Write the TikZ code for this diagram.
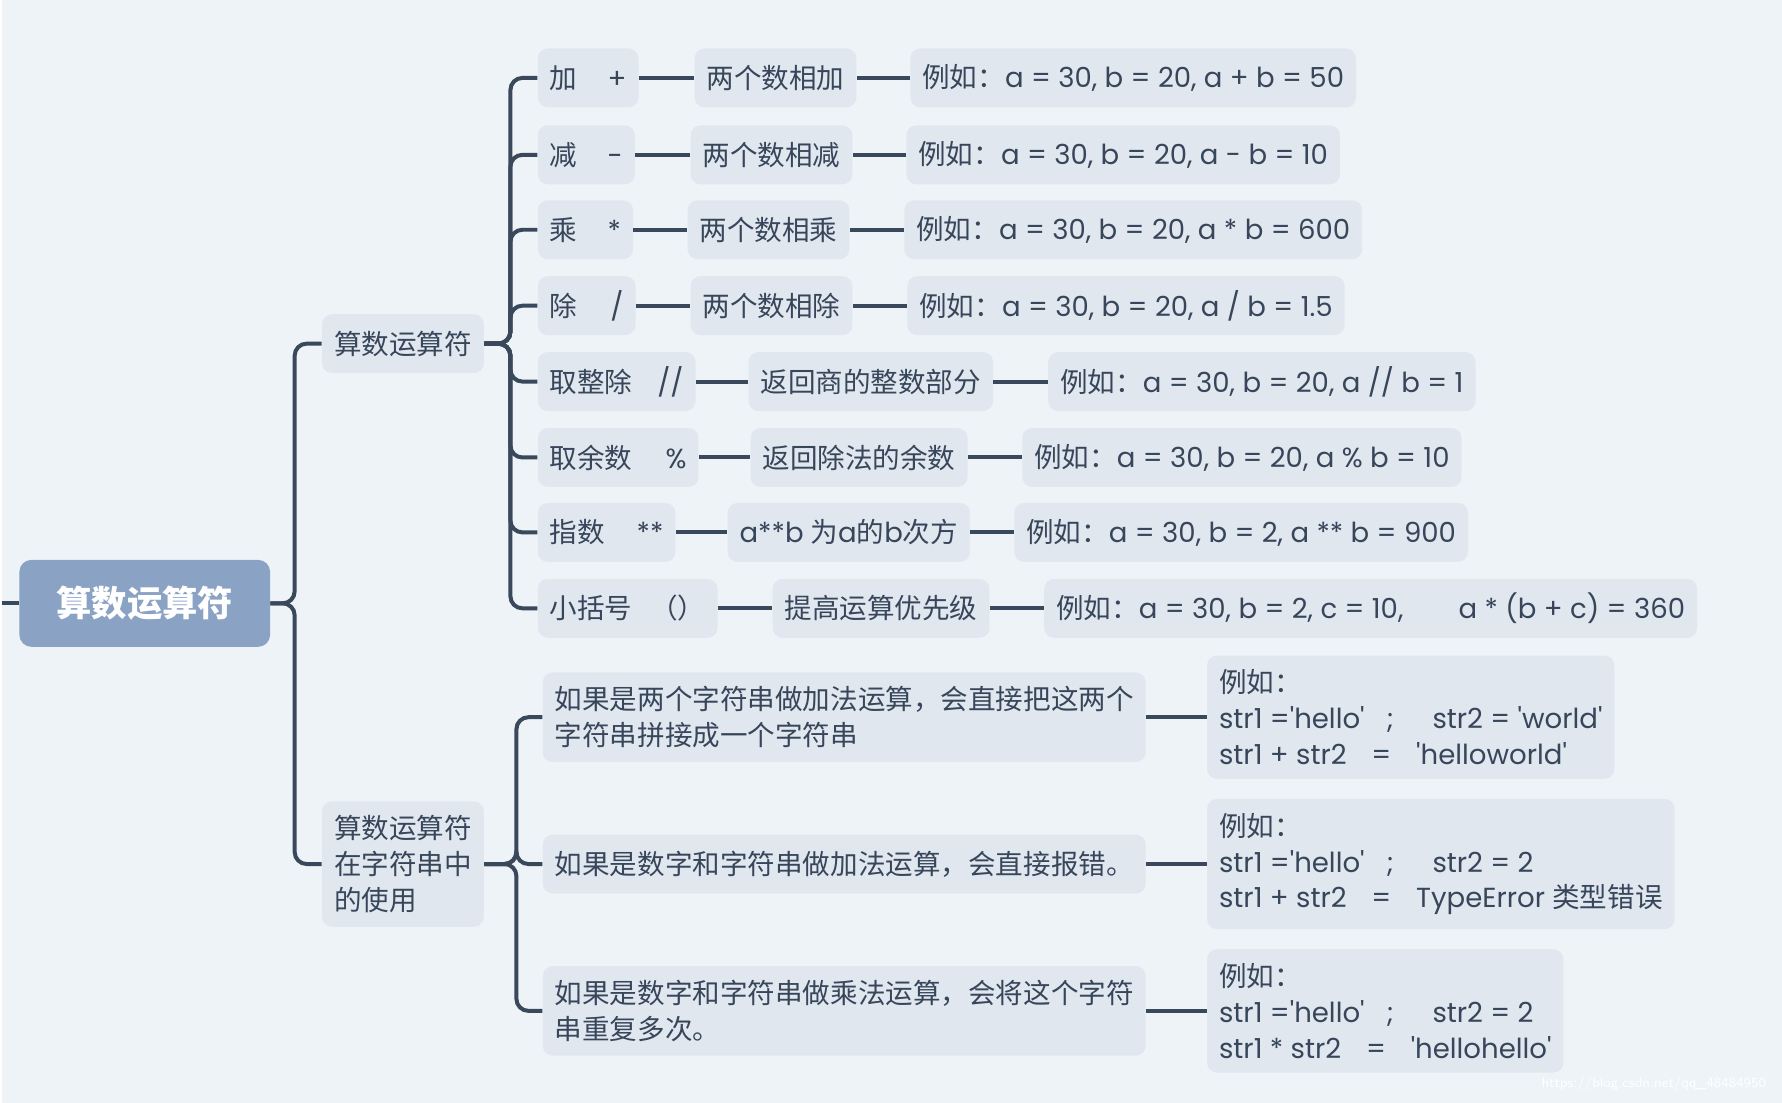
\documentclass[tikz,border=0pt]{standalone}
\usepackage{fontspec}
\newfontfamily\zhfont{Noto Sans CJK SC}
\newfontfamily\enfont{Poppins}
\newcommand{\en}[1]{{\enfont #1}}

\definecolor{bgcol}{HTML}{EDF3F7}
\definecolor{boxcol}{HTML}{E1E7EF}
\definecolor{linecol}{HTML}{3A485B}
\definecolor{inkcol}{HTML}{37465A}
\definecolor{rootcol}{HTML}{8AA2C4}

\tikzset{
  topic/.style={anchor=west, fill=boxcol, text=inkcol, rounded corners=5pt, inner xsep=6pt, inner ysep=7pt, minimum height=29.5pt, align=left, font=\zhfont\fontsize{13.8}{18}\selectfont},
  rootbox/.style={anchor=west, fill=rootcol, text=white, rounded corners=6pt, minimum width=125.5pt, minimum height=43.5pt, font=\zhfont\fontsize{17.7}{20}\selectfont\bfseries},
  branch/.style={draw=linecol, line width=2pt, rounded corners=6pt},
  link/.style={draw=linecol, line width=2pt}
}

\begin{document}
\begin{tikzpicture}[x=0.5pt,y=-0.5pt]
		\fill[bgcol] (0,0) rectangle (1782,1104);
		% root and first level
		\node[rootbox] (root) at (17,604) {算数运算符};
		\node[topic] (arith) at (320,344) {算数运算符};
		\node[topic] (strop) at (320,865) {算数运算符\\在字符串中\\的使用};
		% operators
		\node[topic] (op1) at (536,78) {加\hspace{1.1em}\en{+}};
		\node[topic] (op2) at (536,155) {减\hspace{1.1em}\en{-}};
		\node[topic] (op3) at (536,230) {乘\hspace{1.1em}\en{*}};
		\node[topic] (op4) at (536,306) {除\hspace{1.2em}\en{/}};
		\node[topic] (op5) at (536,382) {取整除\hspace{0.9em}\en{//}};
		\node[topic] (op6) at (536,458) {取余数\hspace{1.2em}\en{\%}};
		\node[topic] (op7) at (536,533) {指数\hspace{1.15em}\en{**}};
		\node[topic] (op8) at (536,609) {小括号\hspace{0.65em}（）};
		% descriptions
		\node[topic] (ds1) at (693,78) {两个数相加};
		\node[topic] (ds2) at (689,155) {两个数相减};
		\node[topic] (ds3) at (686,230) {两个数相乘};
		\node[topic] (ds4) at (689,306) {两个数相除};
		\node[topic] (ds5) at (747,382) {返回商的整数部分};
		\node[topic] (ds6) at (749,458) {返回除法的余数};
		\node[topic] (ds7) at (726,533) {\en{a**b}\hspace{0.25em}为\en{a}的\en{b}次方};
		\node[topic] (ds8) at (771,609) {提高运算优先级};
		% examples
		\node[topic] (eg1) at (909,78) {例如：\en{a = 30, b = 20, a + b = 50}};
		\node[topic] (eg2) at (905,155) {例如：\en{a = 30, b = 20, a - b = 10}};
		\node[topic] (eg3) at (903,230) {例如：\en{a = 30, b = 20, a * b = 600}};
		\node[topic] (eg4) at (906,306) {例如：\en{a = 30, b = 20, a / b = 1.5}};
		\node[topic] (eg5) at (1047,382) {例如：\en{a = 30, b = 20, a // b = 1}};
		\node[topic] (eg6) at (1021,458) {例如：\en{a = 30, b = 20, a \% b = 10}};
		\node[topic] (eg7) at (1013,533) {例如：\en{a = 30, b = 2, a ** b = 900}};
		\node[topic] (eg8) at (1043,609) {例如：\en{a = 30, b = 2, c = 10,\hspace{2em}a * (b + c) = 360}};
		% strings
		\node[topic] (sc1) at (541,718) {如果是两个字符串做加法运算，会直接把这两个\\字符串拼接成一个字符串};
		\node[topic] (sc2) at (541,865) {如果是数字和字符串做加法运算，会直接报错。};
		\node[topic] (sc3) at (541,1012) {如果是数字和字符串做乘法运算，会将这个字符\\串重复多次。};
		\node[topic] (se1) at (1206,718) {例如：\\\en{str1 ='hello'\hspace{0.8em};\hspace{1.4em}str2 = 'world'}\\\en{str1 + str2\hspace{0.9em}=\hspace{0.9em}'helloworld'}};
		\node[topic] (se2) at (1206,865) {例如：\\\en{str1 ='hello'\hspace{0.8em};\hspace{1.4em}str2 = 2}\\\en{str1 + str2\hspace{0.9em}=\hspace{0.9em}TypeError }类型错误};
		\node[topic] (se3) at (1206,1012) {例如：\\\en{str1 ='hello'\hspace{0.8em};\hspace{1.4em}str2 = 2}\\\en{str1 * str2\hspace{0.9em}=\hspace{0.9em}'hellohello'}};
		\node[anchor=east, text=white, font=\fontsize{7}{8}\selectfont\sffamily] (mark) at (1773,1085) {https://blog.csdn.net/qq\_48484950};
		% connectors
		\coordinate (edge) at (0,604);
		\coordinate (t0) at (293,604);
		\coordinate (t1) at (509,344);
		\coordinate (t2) at (515,865);
		\draw[link] (edge) -- (root.west);
		\draw[branch] (root.east) -- (t0) |- (arith.west);
		\draw[branch] (root.east) -- (t0) |- (strop.west);
		\foreach \i in {1,...,8} {
			\draw[branch] (arith.east) -- (t1) |- (op\i.west);
			\draw[link] (op\i.east) -- (ds\i.west);
			\draw[link] (ds\i.east) -- (eg\i.west);
		}
		\foreach \i in {1,2,3} {
			\draw[branch] (strop.east) -- (t2) |- (sc\i.west);
			\draw[link] (sc\i.east) -- (se\i.west);
		}
		\end{tikzpicture}
\end{document}
